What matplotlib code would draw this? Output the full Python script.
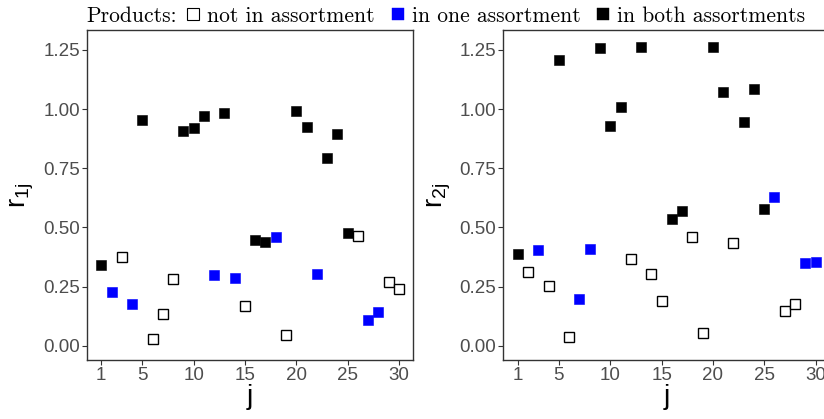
import matplotlib
matplotlib.use("Agg")
import matplotlib.pyplot as plt
from matplotlib.lines import Line2D

# Product index
j = list(range(1, 31))

# Ratios for assortment 1 and assortment 2
r1 = [0.340, 0.226, 0.376, 0.175, 0.955, 0.030, 0.134, 0.282, 0.907, 0.918,
      0.969, 0.298, 0.982, 0.285, 0.167, 0.445, 0.437, 0.458, 0.046, 0.991,
      0.923, 0.302, 0.793, 0.893, 0.475, 0.465, 0.109, 0.141, 0.271, 0.239]
r2 = [0.388, 0.313, 0.403, 0.254, 1.206, 0.036, 0.196, 0.407, 1.256, 0.927,
      1.007, 0.368, 1.261, 0.303, 0.189, 0.534, 0.568, 0.461, 0.055, 1.261,
      1.071, 0.434, 0.944, 1.083, 0.576, 0.627, 0.146, 0.175, 0.348, 0.353]

# Membership status: 0 = not in assortment, 1 = in one, 2 = in both
s1 = [2, 1, 0, 1, 2, 0, 0, 0, 2, 2, 2, 1, 2, 1, 0, 2, 2, 1, 0, 2,
      2, 1, 2, 2, 2, 0, 1, 1, 0, 0]
s2 = [2, 0, 1, 0, 2, 0, 1, 1, 2, 2, 2, 0, 2, 0, 0, 2, 2, 0, 0, 2,
      2, 0, 2, 2, 2, 1, 0, 0, 1, 1]

status_labels = ["not in assortment", "in one assortment", "in both assortments"]
xticks = [1, 5, 10, 15, 20, 25, 30]
yticks = [0.00, 0.25, 0.50, 0.75, 1.00, 1.25]

face = {0: "white", 1: "#0000FF", 2: "black"}
edge = {0: "black", 1: "#0000FF", 2: "black"}

W, H = 824, 419
fig = plt.figure(figsize=(W / 100, H / 100), dpi=100)

tick_font = dict(family="Liberation Sans", size=13.5, color="#4D4D4D")
axis_col = "#333333"


def panel(left_px, r, s, idx):
    ax = fig.add_axes([left_px / W, (H - 360) / H, 326.6 / W, 330 / H])
    for k in (0, 1, 2):
        xs = [jj for jj, ss in zip(j, s) if ss == k]
        ys = [rr for rr, ss in zip(r, s) if ss == k]
        ax.plot(xs, ys, linestyle="none", marker="s", markersize=7.0,
                markerfacecolor=face[k], markeredgecolor=edge[k],
                markeredgewidth=1.0 if k == 0 else 0.4)
    ax.set_xlim(-0.42, 31.4)
    ax.set_ylim(-0.06, 1.334)
    ax.set_xticks(xticks)
    ax.set_yticks(yticks)
    ax.set_xticklabels([str(t) for t in xticks], fontdict=tick_font)
    ax.set_yticklabels([f"{t:.2f}" for t in yticks], fontdict=tick_font)
    ax.tick_params(length=3.5, width=0.8, color=axis_col, pad=1.5)
    for sp in ax.spines.values():
        sp.set_color(axis_col)
        sp.set_linewidth(1.0)
    ax.set_xlabel("j", fontsize=20, family="Liberation Sans", labelpad=0)
    ax.set_ylabel(r"$\mathregular{r_{%sj}}$" % idx, fontsize=20,
                  family="Liberation Sans", labelpad=5)
    return ax


panel(86.7, r1, s1, "1")
panel(503.3, r2, s2, "2")

# Legend across the top
handles = [
    Line2D([], [], linestyle="none", marker="s", markersize=8.5,
           markerfacecolor=face[k], markeredgecolor=edge[k],
           markeredgewidth=0.8 if k == 0 else 0.3)
    for k in (0, 1, 2)
]
fig.legend(handles, status_labels, loc="center left",
           bbox_to_anchor=(185.5 / W, 1 - 16 / H), ncol=3, frameon=False,
           prop=dict(family="cmr10", size=15.5), handlelength=0.7,
           handletextpad=0.3, columnspacing=0.72, borderpad=0,
           borderaxespad=0)
fig.text(86 / W, 1 - 16 / H, "Products:", family="cmr10", size=15.5,
         ha="left", va="center")

fig.savefig("out.png", dpi=100)
